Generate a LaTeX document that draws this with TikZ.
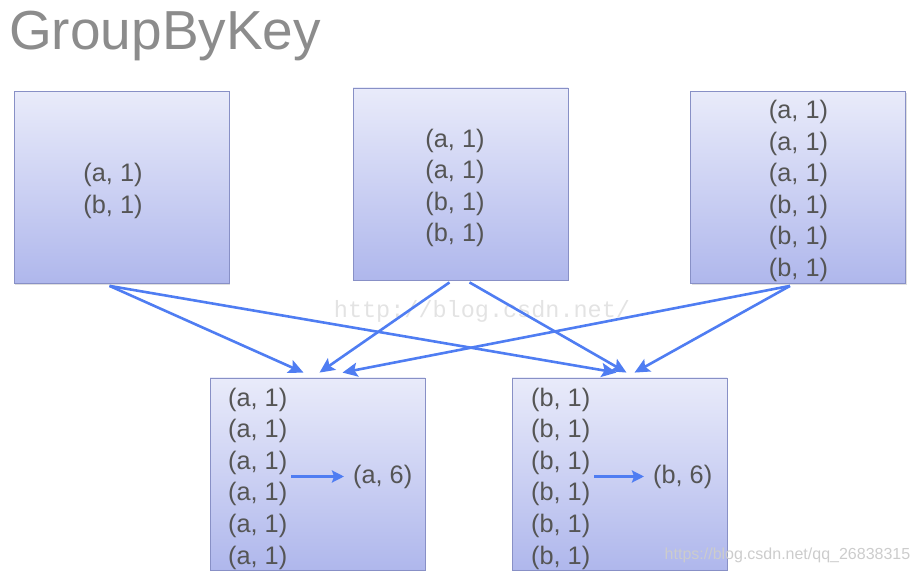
\documentclass[tikz,border=0pt]{standalone}
\usepackage{fontspec}
\setmainfont{Liberation Sans}
\setmonofont{Liberation Mono}
\usetikzlibrary{arrows.meta,shadows}

\definecolor{boxtop}{HTML}{E9EBFA}
\definecolor{boxbottom}{HTML}{AFB7EC}
\definecolor{boxline}{HTML}{8890C6}
\definecolor{flowblue}{HTML}{4F7DF2}
\definecolor{pairtext}{HTML}{555555}
\definecolor{titlegray}{HTML}{8C8C8C}

\tikzset{
  kvbox/.style={draw=boxline, line width=0.8pt, top color=boxtop, bottom color=boxbottom,
    minimum width=215pt, minimum height=192pt, inner sep=0pt,
    drop shadow={opacity=0.25, shadow xshift=1pt, shadow yshift=-1.5pt}},
  pairs/.style={text=pairtext, font=\fontsize{25.3}{31.6}\selectfont, inner sep=0pt},
  flow/.style={draw=flowblue, line width=2.6pt, -{Stealth[length=15pt,width=14pt,inset=3pt]}},
  sumflow/.style={draw=flowblue, line width=2.6pt, -{Stealth[length=12pt,width=12pt,inset=2pt]}},
}

\begin{document}
\begin{tikzpicture}[x=1pt,y=1pt]
    \useasboundingbox (0,0) rectangle (919,576);

    % Title
    \node[anchor=base west, text=titlegray, font=\fontsize{55}{60}\selectfont, inner sep=0pt]
        (title) at (9,526) {GroupByKey};

    % Input partitions
    \node[kvbox] (top1) at (121.5,388.5) {};
    \node[kvbox] (top2) at (460.5,392) {};
    \node[kvbox] (top3) at (798,388.5) {};
    \node[pairs, align=center] (in1) at (113,385) {(a, 1)\\(b, 1)};
    \node[pairs, align=center] (in2) at (455,388) {(a, 1)\\(a, 1)\\(b, 1)\\(b, 1)};
    \node[pairs, align=center] (in3) at (798.5,385)
        {(a, 1)\\(a, 1)\\(a, 1)\\(b, 1)\\(b, 1)\\(b, 1)};

    % Grouped partitions
    \node[kvbox] (bot1) at (317.5,102) {};
    \node[kvbox] (bot2) at (619.5,102) {};

    % Watermark
    \node[text=gray!22, font=\ttfamily\fontsize{23.5}{26}\selectfont, inner sep=0pt]
        (mark) at (482,265) {http://blog.csdn.net/};

    % Shuffle arrows
    \foreach \from/\fx/\to/\tx in {top1/-12/bot1/-14, top1/-12/bot2/-3,
                                   top2/-11/bot1/2,   top2/9/bot2/7,
                                   top3/-8/bot1/25,   top3/-8/bot2/15}
        \draw[flow] ([xshift=\fx pt, yshift=-2pt]\from.south) -- ([xshift=\tx pt, yshift=5pt]\to.north);

    % Group contents
    \node[pairs, align=left, anchor=west] (lista) at (228,97.5)
        {(a, 1)\\(a, 1)\\(a, 1)\\(a, 1)\\(a, 1)\\(a, 1)};
    \node[pairs, align=left, anchor=west] (listb) at (531,97.5)
        {(b, 1)\\(b, 1)\\(b, 1)\\(b, 1)\\(b, 1)\\(b, 1)};

    % Reduced values
    \node[pairs, anchor=west] (suma) at (353,99.5) {(a, 6)};
    \node[pairs, anchor=west] (sumb) at (653,99.5) {(b, 6)};
    \draw[sumflow, shorten <=4pt, shorten >=9pt] (lista.east |- suma.west) -- (suma.west);
    \draw[sumflow, shorten <=4pt, shorten >=9pt] (listb.east |- sumb.west) -- (sumb.west);

    % Site mark
    \node[text=gray!40, font=\fontsize{16}{18}\selectfont, inner sep=0pt]
        (site) at (787.5,21) {https://blog.csdn.net/qq\_26838315};
\end{tikzpicture}
\end{document}
